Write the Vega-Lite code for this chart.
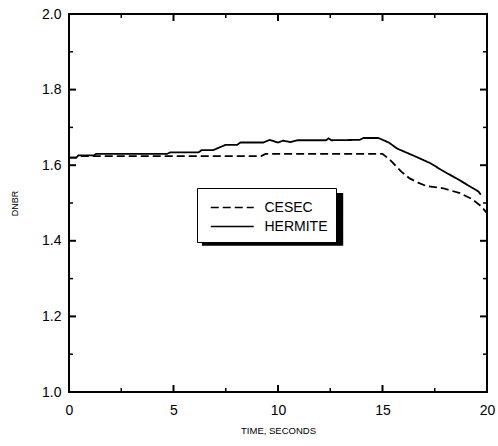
{
  "$schema": "https://vega.github.io/schema/vega-lite/v6.json",
  "width": 418,
  "height": 378,
  "autosize": "none",
  "padding": {"left": 69, "top": 14, "right": 11, "bottom": 54},
  "background": "white",
  "config": {
    "font": "Liberation Sans",
    "view": {"stroke": "black", "strokeWidth": 2},
    "axis": {
      "domain": false,
      "grid": false,
      "ticks": false,
      "labelColor": "black",
      "titleColor": "black",
      "labelFont": "Liberation Sans",
      "titleFont": "Liberation Sans",
      "titleFontWeight": "normal"
    }
  },
  "datasets": {
    "curves": [
      {"t": 0.0, "dnbr": 1.620, "code": "HERMITE"},
      {"t": 0.35, "dnbr": 1.620, "code": "HERMITE"},
      {"t": 0.45, "dnbr": 1.626, "code": "HERMITE"},
      {"t": 1.2, "dnbr": 1.626, "code": "HERMITE"},
      {"t": 1.3, "dnbr": 1.630, "code": "HERMITE"},
      {"t": 4.7, "dnbr": 1.630, "code": "HERMITE"},
      {"t": 4.85, "dnbr": 1.634, "code": "HERMITE"},
      {"t": 6.2, "dnbr": 1.634, "code": "HERMITE"},
      {"t": 6.35, "dnbr": 1.640, "code": "HERMITE"},
      {"t": 6.9, "dnbr": 1.640, "code": "HERMITE"},
      {"t": 7.2, "dnbr": 1.647, "code": "HERMITE"},
      {"t": 7.5, "dnbr": 1.654, "code": "HERMITE"},
      {"t": 8.05, "dnbr": 1.654, "code": "HERMITE"},
      {"t": 8.2, "dnbr": 1.660, "code": "HERMITE"},
      {"t": 9.3, "dnbr": 1.660, "code": "HERMITE"},
      {"t": 9.6, "dnbr": 1.667, "code": "HERMITE"},
      {"t": 10.0, "dnbr": 1.660, "code": "HERMITE"},
      {"t": 10.25, "dnbr": 1.665, "code": "HERMITE"},
      {"t": 10.6, "dnbr": 1.661, "code": "HERMITE"},
      {"t": 10.95, "dnbr": 1.666, "code": "HERMITE"},
      {"t": 12.3, "dnbr": 1.666, "code": "HERMITE"},
      {"t": 12.42, "dnbr": 1.671, "code": "HERMITE"},
      {"t": 12.55, "dnbr": 1.666, "code": "HERMITE"},
      {"t": 13.9, "dnbr": 1.667, "code": "HERMITE"},
      {"t": 14.1, "dnbr": 1.672, "code": "HERMITE"},
      {"t": 14.8, "dnbr": 1.672, "code": "HERMITE"},
      {"t": 15.3, "dnbr": 1.660, "code": "HERMITE"},
      {"t": 15.7, "dnbr": 1.644, "code": "HERMITE"},
      {"t": 16.5, "dnbr": 1.625, "code": "HERMITE"},
      {"t": 17.3, "dnbr": 1.605, "code": "HERMITE"},
      {"t": 17.8, "dnbr": 1.588, "code": "HERMITE"},
      {"t": 18.6, "dnbr": 1.563, "code": "HERMITE"},
      {"t": 19.0, "dnbr": 1.550, "code": "HERMITE"},
      {"t": 19.6, "dnbr": 1.530, "code": "HERMITE"},
      {"t": 19.7, "dnbr": 1.522, "code": "HERMITE"},

      {"t": 0.0, "dnbr": 1.620, "code": "CESEC"},
      {"t": 0.4, "dnbr": 1.620, "code": "CESEC"},
      {"t": 0.6, "dnbr": 1.624, "code": "CESEC"},
      {"t": 9.2, "dnbr": 1.624, "code": "CESEC"},
      {"t": 9.4, "dnbr": 1.630, "code": "CESEC"},
      {"t": 15.0, "dnbr": 1.630, "code": "CESEC"},
      {"t": 15.36, "dnbr": 1.614, "code": "CESEC"},
      {"t": 15.9, "dnbr": 1.583, "code": "CESEC"},
      {"t": 16.3, "dnbr": 1.565, "code": "CESEC"},
      {"t": 16.7, "dnbr": 1.554, "code": "CESEC"},
      {"t": 17.1, "dnbr": 1.545, "code": "CESEC"},
      {"t": 17.9, "dnbr": 1.539, "code": "CESEC"},
      {"t": 18.7, "dnbr": 1.526, "code": "CESEC"},
      {"t": 19.3, "dnbr": 1.510, "code": "CESEC"},
      {"t": 19.75, "dnbr": 1.490, "code": "CESEC"},
      {"t": 20.0, "dnbr": 1.473, "code": "CESEC"}
    ],
    "timeMajor": [{"v": 0}, {"v": 5}, {"v": 10}, {"v": 15}, {"v": 20}],
    "timeMinor": [{"v": 2.5}, {"v": 7.5}, {"v": 12.5}, {"v": 17.5}],
    "dnbrMajor": [{"v": 1.0}, {"v": 1.2}, {"v": 1.4}, {"v": 1.6}, {"v": 1.8}, {"v": 2.0}],
    "dnbrMinor": [{"v": 1.1}, {"v": 1.3}, {"v": 1.5}, {"v": 1.7}, {"v": 1.9}]
  },
  "layer": [
    {
      "description": "Drop shadow behind the key box",
      "data": {"values": [{}]},
      "mark": {"type": "rect", "color": "black"},
      "encoding": {
        "x": {"datum": 6.36, "type": "quantitative", "scale": {"domain": [0, 20], "nice": false, "zero": false}, "title": "TIME, SECONDS"},
        "x2": {"datum": 13.12},
        "y": {"datum": 1.5265, "type": "quantitative", "scale": {"domain": [1, 2], "nice": false, "zero": false}, "title": "DNBR"},
        "y2": {"datum": 1.387}
      }
    },
    {
      "description": "Inward ticks along the bottom edge, major",
      "data": {"name": "timeMajor"},
      "mark": {"type": "rule", "color": "black", "strokeWidth": 2},
      "encoding": {
        "x": {"field": "v", "type": "quantitative", "scale": {"domain": [0, 20], "nice": false, "zero": false}, "title": "TIME, SECONDS"},
        "y": {"datum": 1.0, "type": "quantitative", "scale": {"domain": [1, 2], "nice": false, "zero": false}, "title": "DNBR"},
        "y2": {"datum": 1.0185}
      }
    },
    {
      "description": "Inward ticks along the top edge, major",
      "data": {"name": "timeMajor"},
      "mark": {"type": "rule", "color": "black", "strokeWidth": 2},
      "encoding": {
        "x": {"field": "v", "type": "quantitative", "scale": {"domain": [0, 20], "nice": false, "zero": false}, "title": "TIME, SECONDS"},
        "y": {"datum": 2.0, "type": "quantitative", "scale": {"domain": [1, 2], "nice": false, "zero": false}, "title": "DNBR"},
        "y2": {"datum": 1.9815}
      }
    },
    {
      "description": "Inward ticks along the bottom edge, minor",
      "data": {"name": "timeMinor"},
      "mark": {"type": "rule", "color": "black", "strokeWidth": 1.5},
      "encoding": {
        "x": {"field": "v", "type": "quantitative", "scale": {"domain": [0, 20], "nice": false, "zero": false}, "title": "TIME, SECONDS"},
        "y": {"datum": 1.0, "type": "quantitative", "scale": {"domain": [1, 2], "nice": false, "zero": false}, "title": "DNBR"},
        "y2": {"datum": 1.0106}
      }
    },
    {
      "description": "Inward ticks along the top edge, minor",
      "data": {"name": "timeMinor"},
      "mark": {"type": "rule", "color": "black", "strokeWidth": 1.5},
      "encoding": {
        "x": {"field": "v", "type": "quantitative", "scale": {"domain": [0, 20], "nice": false, "zero": false}, "title": "TIME, SECONDS"},
        "y": {"datum": 2.0, "type": "quantitative", "scale": {"domain": [1, 2], "nice": false, "zero": false}, "title": "DNBR"},
        "y2": {"datum": 1.9894}
      }
    },
    {
      "description": "Inward ticks along the left edge, major",
      "data": {"name": "dnbrMajor"},
      "mark": {"type": "rule", "color": "black", "strokeWidth": 2},
      "encoding": {
        "y": {"field": "v", "type": "quantitative", "scale": {"domain": [1, 2], "nice": false, "zero": false}, "title": "DNBR"},
        "x": {"datum": 0, "type": "quantitative", "scale": {"domain": [0, 20], "nice": false, "zero": false}, "title": "TIME, SECONDS"},
        "x2": {"datum": 0.335}
      }
    },
    {
      "description": "Inward ticks along the right edge, major",
      "data": {"name": "dnbrMajor"},
      "mark": {"type": "rule", "color": "black", "strokeWidth": 2},
      "encoding": {
        "y": {"field": "v", "type": "quantitative", "scale": {"domain": [1, 2], "nice": false, "zero": false}, "title": "DNBR"},
        "x": {"datum": 20, "type": "quantitative", "scale": {"domain": [0, 20], "nice": false, "zero": false}, "title": "TIME, SECONDS"},
        "x2": {"datum": 19.665}
      }
    },
    {
      "description": "Inward ticks along the left edge, minor",
      "data": {"name": "dnbrMinor"},
      "mark": {"type": "rule", "color": "black", "strokeWidth": 1.5},
      "encoding": {
        "y": {"field": "v", "type": "quantitative", "scale": {"domain": [1, 2], "nice": false, "zero": false}, "title": "DNBR"},
        "x": {"datum": 0, "type": "quantitative", "scale": {"domain": [0, 20], "nice": false, "zero": false}, "title": "TIME, SECONDS"},
        "x2": {"datum": 0.191}
      }
    },
    {
      "description": "Inward ticks along the right edge, minor",
      "data": {"name": "dnbrMinor"},
      "mark": {"type": "rule", "color": "black", "strokeWidth": 1.5},
      "encoding": {
        "y": {"field": "v", "type": "quantitative", "scale": {"domain": [1, 2], "nice": false, "zero": false}, "title": "DNBR"},
        "x": {"datum": 20, "type": "quantitative", "scale": {"domain": [0, 20], "nice": false, "zero": false}, "title": "TIME, SECONDS"},
        "x2": {"datum": 19.809}
      }
    },
    {
      "description": "DNBR histories from the two codes, with the labelled axes and the key",
      "data": {"name": "curves"},
      "mark": {"type": "line", "color": "black", "strokeWidth": 1.8},
      "encoding": {
        "x": {
          "field": "t",
          "type": "quantitative",
          "scale": {"domain": [0, 20], "nice": false, "zero": false},
          "title": "TIME, SECONDS",
          "axis": {
            "orient": "bottom",
            "values": [0, 5, 10, 15, 20],
            "format": "d",
            "labelFontSize": 14,
            "labelPadding": 11,
            "labelFlush": false,
            "titleFontSize": 9.5,
            "titlePadding": 8
          }
        },
        "y": {
          "field": "dnbr",
          "type": "quantitative",
          "scale": {"domain": [1, 2], "nice": false, "zero": false},
          "title": "DNBR",
          "axis": {
            "orient": "left",
            "values": [1.0, 1.2, 1.4, 1.6, 1.8, 2.0],
            "format": ".1f",
            "labelFontSize": 14,
            "labelPadding": 8,
            "labelFlush": false,
            "titleFontSize": 9,
            "titlePadding": 22
          }
        },
        "strokeDash": {
          "field": "code",
          "type": "nominal",
          "scale": {"domain": ["CESEC", "HERMITE"], "range": [[8, 4], [1, 0]]},
          "legend": {
            "orient": "none",
            "legendX": 128,
            "legendY": 174,
            "title": null,
            "symbolType": "M-2,0H2",
            "symbolSize": 462,
            "symbolOffset": 15.75,
            "symbolStrokeWidth": 1.5,
            "symbolStrokeColor": "black",
            "labelFont": "Liberation Sans",
            "labelFontSize": 14,
            "labelColor": "black",
            "labelOffset": 20.75,
            "padding": 8,
            "rowPadding": 0,
            "fillColor": "white",
            "strokeColor": "black"
          }
        }
      }
    }
  ]
}
